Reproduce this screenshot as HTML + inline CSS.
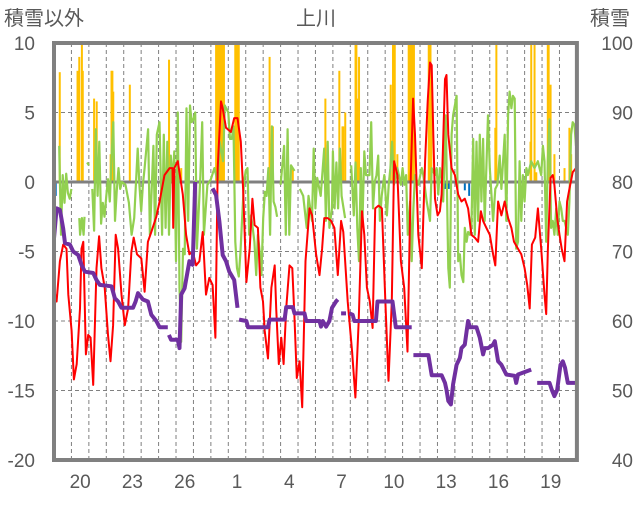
<!DOCTYPE html>
<html><head><meta charset="utf-8">
<style>
html,body{margin:0;padding:0;background:#fff;}
body{width:636px;height:501px;overflow:hidden;font-family:"Liberation Sans","Noto Sans CJK JP",sans-serif;}
svg text{font-family:"Liberation Sans","Noto Sans CJK JP",sans-serif;fill:#595959;}
</style></head>
<body>
<svg id="chart" width="636" height="501" viewBox="0 0 636 501" xmlns="http://www.w3.org/2000/svg">
<text x="4" y="25" font-size="20">積雪以外</text>
<text x="316" y="25" font-size="20" text-anchor="middle">上川</text>
<text x="590" y="25" font-size="20">積雪</text>
<g id="grid"></g>
<g id="bars"></g>
<g id="lines"></g>
<g id="frame"></g>
<g id="ticks"></g>
</svg>
<script>
const leftTicks=[10,5,0,-5,-10,-15,-20];
const rightTicks=[100,90,80,70,60,50,40];
const dayLabels=["20","23","26","1","4","7","10","13","16","19"];
const dayLabelPos=[1,4,7,10,13,16,19,22,25,28];
const redPts=[[0,-7.75],[0.15,-8.6],[0.34,-5.7],[0.53,-4.5],[0.72,-4.8],[0.82,-8.1],[1.01,-10.7],[1.14,-14.2],[1.3,-13.1],[1.49,-9.1],[1.58,-4.8],[1.68,-4.3],[1.83,-12.4],[1.96,-11],[2.1,-11.2],[2.25,-14.6],[2.44,-6.2],[2.59,-3.9],[2.72,-6.2],[2.91,-7.6],[3.1,-11],[3.24,-12.9],[3.39,-10.3],[3.54,-3.8],[3.68,-4.8],[3.87,-8.1],[4.06,-10.3],[4.25,-9.1],[4.44,-5],[4.57,-4],[4.76,-5.2],[5.01,-5.5],[5.2,-7.9],[5.39,-4.3],[5.58,-3.6],[5.87,-2.5],[6.06,-1.4],[6.34,0.5],[6.63,1],[6.8,1],[6.84,-3.3],[6.9,1],[7.1,1.5],[7.39,-0.9],[7.58,-3.8],[7.77,-5.2],[7.96,-5],[8.15,-6],[8.34,-5.7],[8.53,-3.6],[8.72,-8.1],[8.91,-6.9],[9.1,-7.4],[9.26,-11.2],[9.39,1],[9.58,5.8],[9.68,5.3],[9.87,3.9],[10.15,3.6],[10.34,4.6],[10.53,4.6],[10.72,2.9],[10.85,-0.5],[11.04,-7.2],[11.23,-4.8],[11.38,-1.2],[11.51,-3.1],[11.7,-3.3],[11.84,-7.6],[11.99,-8.6],[12.09,-10.7],[12.28,-12.7],[12.47,-7.6],[12.66,-6],[12.75,-9.1],[12.9,-13.1],[13.04,-11.2],[13.17,-13.1],[13.32,-9.1],[13.51,-6],[13.67,-6.2],[13.8,-9.8],[13.93,-14.1],[14.09,-12.9],[14.24,-16.2],[14.43,-5.7],[14.66,-1.9],[14.81,-2.4],[15.04,-5.2],[15.23,-6.7],[15.38,-4.8],[15.51,-2.6],[15.7,-2.6],[15.9,-2.8],[16.09,-3.3],[16.28,-6.7],[16.47,-2.8],[16.6,-3.6],[16.85,-8.6],[17.1,-12.2],[17.29,-15.5],[17.48,-10],[17.67,-2.1],[17.8,-3.8],[17.95,-7.6],[18.12,-8.6],[18.28,-10.5],[18.43,-1.9],[18.62,-1.7],[18.81,-1.9],[19.0,-8.3],[19.19,-14.3],[19.38,-8.6],[19.51,1.5],[19.7,0.5],[19.9,-5.7],[20.09,-7.6],[20.28,-12.2],[20.47,0.5],[20.6,6],[20.71,3.4],[20.9,-3.8],[21.1,-6.2],[21.19,-2.6],[21.29,1.5],[21.44,5.8],[21.57,8.6],[21.67,8.4],[21.76,3.4],[21.86,-1.2],[22.01,-2.4],[22.14,-2.1],[22.24,-0.9],[22.43,7.4],[22.52,7.7],[22.62,3.4],[22.81,1],[23.0,0.5],[23.19,-0.9],[23.38,-1.4],[23.57,-1.2],[23.76,-1.9],[23.95,-3.8],[24.14,-4],[24.33,-4.3],[24.49,-2.1],[24.62,-2.8],[24.81,-3.3],[25.0,-3.8],[25.19,-5.2],[25.32,-6],[25.48,-1.4],[25.67,-2.4],[25.86,-1.4],[26.05,-2.6],[26.24,-3.3],[26.39,-4.3],[26.62,-4.8],[26.81,-5.2],[27.0,-6.2],[27.15,-7.4],[27.29,-9.1],[27.42,-4.5],[27.61,-4],[27.76,-1.9],[27.95,-4.8],[28.14,-8.1],[28.24,-9.5],[28.33,-5],[28.49,0.3],[28.62,0.5],[28.71,-0.2],[28.87,-2.6],[29.0,-3.8],[29.13,-4.8],[29.29,-5.7],[29.44,-1.4],[29.57,-0.5],[29.76,0.7],[29.95,1]];
const greenPts=[[0.3,2.6],[0.4,-3.8],[0.5,0.5],[0.6,-1.5],[0.7,0.6],[0.8,-0.8],[0.9,-1.2],[1.0,-0.5],null,[1.45,-2.6],[1.5,-3.8],[1.6,-2.6],[1.7,-3.8],[1.75,-2.5],null,[1.9,1.4],[2.0,1.2],null,[2.2,-0.5],[2.3,-3.5],[2.4,3.8],[2.5,-1],[2.6,2.9],[2.7,-3],[2.8,-1.5],[2.9,-2.5],[3.0,-1],[3.1,0.2],[3.2,-1.4],[3.3,1.7],[3.4,4.3],[3.5,-2.8],[3.6,-0.7],[3.7,1],[3.8,-0.5],[3.9,0],[4.1,-0.2],[4.3,-1.5],[4.45,-3.8],[4.6,-2.6],[4.8,2.4],[4.9,-0.2],[5.0,-2.1],[5.1,-0.2],[5.2,1],[5.4,3.8],[5.5,-3.8],[5.7,2.6],[5.8,-3.8],[5.9,3.4],[6.05,4.3],[6.2,-3.8],[6.3,3.4],[6.4,-3.3],[6.5,2.9],[6.6,-3.8],[6.7,1.9],[6.8,0],[6.9,2.2],[7.0,-5.7],[7.1,5],[7.2,-7.6],[7.3,-11.5],[7.4,-4.8],[7.5,-5.2],[7.6,5.3],[7.7,-2.8],[7.8,5.5],[7.9,4.3],[8.0,4.5],[8.1,5],[8.2,-4.8],[8.4,0.5],[8.5,4.3],[8.6,-3.8],[8.8,-0.2],[9.0,0.2],[9.2,1],[9.4,0],[9.5,2.9],[9.7,1.5],[9.8,5.5],[10.0,5],[10.1,3.1],[10.2,3.1],[10.3,4],[10.4,-4.3],[10.5,-6.2],[10.6,-6.8],[10.7,-5],[10.8,-2.5],[10.9,0],[11.0,0.8],[11.1,1],[11.2,-3.8],[11.3,-2.4],[11.4,-3.3],[11.5,-4.3],[11.6,-6.7],[11.7,-3.8],[11.8,-5],[11.9,-6.7],[12.0,-2.6],[12.1,-0.7],[12.2,-1],[12.3,1],[12.4,-3.8],[12.5,4],[12.6,-1.4],[12.7,-1.8],[12.8,-2.5],null,[13.0,-0.2],[13.2,2.6],[13.3,-3.8],[13.4,3.8],[13.5,-3.8],[13.6,1.2],[13.8,0.8],null,[14.1,-0.5],[14.3,-1],[14.5,-3.3],[14.6,-1],[14.8,-2.8],[14.9,2.4],[15.0,-1.9],[15.1,0.3],[15.3,-1],[15.5,2.4],[15.6,-2.8],[15.7,2.9],[15.8,-3.3],[15.95,-1.9],[16.0,2.2],[16.1,-1.9],[16.2,1.4],[16.3,-1.9],[16.4,2.4],[16.5,-1],[16.7,-2.6],null,[17.05,1.2],[17.2,-2.4],[17.3,1.4],[17.4,-3.3],[17.5,-5.7],[17.6,1],[17.7,-2.8],[17.8,2.2],[17.9,0.5],[18.1,0.5],[18.2,4.3],[18.3,-1.9],[18.4,0],[18.5,0.5],[18.6,1.9],[18.7,-2.8],[18.8,-1],[18.95,0.5],[19.1,-2.4],[19.2,-0.2],[19.3,1],[19.4,2.9],[19.5,-0.2],[19.7,1],[19.9,-0.2],[20.0,1],[20.1,-0.2],[20.2,0.5],[20.3,-3.8],[20.43,-1.4],[20.52,-5.7],[20.62,-1.9],[20.71,0.5],[20.9,-0.2],[21.1,1],[21.19,0.5],[21.38,-1.4],[21.48,-2.1],[21.57,-2.8],[21.67,1],[21.86,0.5],[21.95,1],[22.05,-0.9],[22.14,1],[22.24,0.3],[22.33,-1.4],[22.47,4.8],[22.62,-6.2],[22.71,-7.6],[22.81,3.4],[22.9,4.8],[23.1,6.2],[23.19,-5.7],[23.29,-5.2],[23.38,-6.7],[23.48,-7.2],[23.57,-3.3],[23.67,-4.3],[23.76,-3.6],[23.86,-3.8],[23.95,-3.3],[24.05,3.1],[24.14,-3.8],[24.24,2.9],[24.33,-2.8],[24.43,3.4],[24.52,-1.4],[24.62,3.1],[24.71,-2.8],[24.9,4.8],[25.0,1],[25.19,-2.8],[25.32,-0.5],[25.44,-0.2],[25.57,1.9],[25.67,-0.5],[25.86,3.4],[25.95,-2.8],[26.05,4.8],[26.14,6.5],[26.24,5.3],[26.33,6.2],[26.43,6.0],[26.52,-4.8],[26.62,-4.3],[26.71,1.5],[26.81,-2.8],[26.9,0.5],[27.0,-1.4],[27.1,1],[27.19,0.5],[27.38,1.5],[27.57,1],[27.76,1.5],[27.95,0.5],[28.05,2.6],[28.14,1.5],[28.24,-4.3],[28.33,1.5],[28.43,4.5],[28.52,-3.3],[28.62,-2.8],[28.71,-3.8],[28.81,-1.9],[28.9,-3.8],[29.0,-1.4],[29.1,-1.9],[29.19,-2.8],[29.29,-2.8],[29.48,-3.8],[29.57,-1.4],[29.67,3.4],[29.76,4.3],[29.86,4.1],[29.95,2.6]];
const snowPts=[[0,71.9],[0.15,76.2],[0.34,76.0],[0.53,73.3],[0.63,71.2],[0.91,71.0],[1.1,70.0],[1.39,69.5],[1.58,68.1],[1.77,67.1],[2.25,66.9],[2.44,65.9],[2.63,65.2],[3.3,65.0],[3.49,63.3],[3.68,62.8],[3.87,61.9],[4.53,61.9],[4.68,62.8],[4.82,64.0],[5.1,63.1],[5.39,62.8],[5.58,60.9],[5.87,60.0],[6.06,59.1],[6.53,59.1],null,[6.59,58.0],[6.72,57.3],[7.1,57.3],[7.2,56.1],[7.3,63.8],[7.49,64.7],[7.77,68.6],[7.96,68.1],[8.1,80],null,[9.1,79.1],[9.3,78.1],[9.49,74.3],[9.68,69.5],[9.87,68.6],[10.06,67.1],[10.34,65.9],[10.53,61.9],null,[10.62,60.2],[11.04,60.0],[11.13,59.1],[12.28,59.1],[12.37,60.2],[13.23,60.2],[13.32,62.0],[13.7,62.0],[13.8,61.1],[14.37,61.1],[14.47,60.0],[15.23,60.0],[15.32,59.2],[15.42,60.0],[15.61,59.2],[15.8,60.0],[15.95,61.9],[16.18,62.8],[16.28,63.1],null,[16.47,61.1],[16.75,61.1],null,[16.94,61.1],[17.13,60.9],[17.23,60.0],[18.47,60.0],[18.56,62.8],[19.42,62.8],[19.61,59.1],[20.52,59.1],null,[20.62,55.1],[21.48,55.1],[21.67,52.2],[22.24,52.2],[22.43,51.1],[22.52,50.1],[22.62,48.5],[22.77,48.0],[22.9,50.9],[23.1,53.7],[23.29,54.7],[23.38,56.1],[23.57,56.6],[23.67,58.5],[23.76,60],[23.86,59.1],[24.24,59.1],[24.43,57.6],[24.62,55.2],[24.71,56.1],[24.9,56.1],[25.19,56.6],[25.29,57.1],[25.48,54.2],[25.67,53.7],[25.95,52.3],[26.43,52.1],[26.52,51.1],[26.62,52.3],[27.38,53],null,[27.72,51.1],[28.43,51.1],[28.56,50.1],[28.71,49.2],[28.87,50.1],[29.06,53.7],[29.19,54.2],[29.32,53.3],[29.48,51.1],[29.95,51.1]];
const precipBars=[[0.33,7.9],[1.35,8],[1.45,9],[1.6,10],[1.65,8],[2.3,6],[2.45,5.8],[3.25,2],[3.3,8],[3.35,8],[3.4,6.5],[4.35,7],[6.6,8.8],[7.3,1],[9.3,10],[9.35,10],[9.4,10],[9.45,10],[9.5,10],[9.55,10],[9.6,10],[9.65,10],[9.7,10],[9.75,10],[10.4,10],[10.45,10],[10.5,10],[10.55,10],[10.6,10],[12.37,9],[12.56,4],[13.42,2.9],[13.7,1],[15.57,6],[16.37,8],[16.55,4],[16.6,4],[16.71,5],[17.3,10],[17.35,10],[17.4,6],[17.5,9],[19.32,7],[19.45,10],[19.5,10],[19.55,10],[19.7,2],[20.35,10],[20.4,10],[20.45,10],[20.5,10],[20.55,10],[20.6,10],[20.65,10],[21.5,10],[21.55,10],[21.6,10],[21.65,6],[25.32,3.9],[25.38,10],[27.34,2.9],[27.38,10],[27.57,10],[27.67,0.7],[28.33,10],[28.38,10],[28.49,7],[28.71,2],[29.29,1],[29.57,3.9],[29.67,2]];
const meltBars=[[0.1,-1],[18.66,-0.5],[22.35,-0.5],[22.45,-0.5],[22.55,-0.5],[22.65,-0.5],[23.57,-0.6],[23.82,-1]];

const NS="http://www.w3.org/2000/svg";
const X0=54,XD=17.43,Y0=182,YU=13.9;
function xs(t){return X0+t*XD;}
function yl(v){return Y0-v*YU;}
function yr(d){return Y0-(d-80)*YU/2;}
function mk(tag,attrs,parent){const e=document.createElementNS(NS,tag);for(const k in attrs)e.setAttribute(k,attrs[k]);parent.appendChild(e);return e;}
const grid=document.getElementById('grid'),bars=document.getElementById('bars'),lines=document.getElementById('lines'),frame=document.getElementById('frame'),ticks=document.getElementById('ticks');

for(let d=1;d<30;d++){
  const l=mk('line',{x1:xs(d),x2:xs(d),y1:yl(10),y2:yl(-20),stroke:'#808080','stroke-width':1,'stroke-dasharray':'4,3'},grid);
  
  
}
leftTicks.forEach(v=>{
  if(v===0||v===10||v===-20)return;
  const l=mk('line',{x1:xs(0),x2:xs(30),y1:yl(v),y2:yl(v),stroke:'#808080','stroke-width':1,'stroke-dasharray':'4,3'},grid);
  
  
});
precipBars.forEach(b=>{
  const v=Math.min(b[1],10);
  const r=mk('rect',{x:xs(b[0])-1,y:yl(v),width:2,height:yl(0)-yl(v),fill:'#FFC000'},bars);
  
  
});
meltBars.forEach(b=>{
  const r=mk('rect',{x:xs(b[0])-1,y:yl(0),width:2,height:yl(b[1])-yl(0),fill:'#0070C0'},bars);
  
  
});
function pathFrom(pts,yf){let d='',pen=false;pts.forEach(p=>{if(!p){pen=false;return;}d+=(pen?'L':'M')+xs(p[0]).toFixed(1)+' '+yf(p[1]).toFixed(1)+' ';pen=true;});return d;}
const zl=mk('line',{x1:xs(0),x2:xs(30),y1:yl(0),y2:yl(0),stroke:'#808080','stroke-width':3},lines);


const gp=mk('path',{d:pathFrom(greenPts,yl),fill:'none',stroke:'#92D050','stroke-width':2.2,'stroke-linejoin':'round'},lines);


const rp=mk('path',{d:pathFrom(redPts,yl),fill:'none',stroke:'#FF0000','stroke-width':2,'stroke-linejoin':'round'},lines);


const sp=mk('path',{d:pathFrom(snowPts,yr),fill:'none',stroke:'#7030A0','stroke-width':4,'stroke-linejoin':'round'},lines);


const fr=mk('rect',{x:xs(0),y:yl(10),width:xs(30)-xs(0),height:yl(-20)-yl(10),fill:'none',stroke:'#808080','stroke-width':4},frame);


leftTicks.forEach(v=>{
  const t=mk('text',{x:35,y:yl(v)+7,'font-size':19,'text-anchor':'end'},ticks);t.textContent=String(v);
  
  
});
rightTicks.forEach(v=>{
  const t=mk('text',{x:633,y:yr(v)+7,'font-size':19,'text-anchor':'end'},ticks);t.textContent=String(v);
  
  
});
dayLabels.forEach((s,i)=>{
  const t=mk('text',{x:xs(dayLabelPos[i]+0.5),y:488,'font-size':19,'text-anchor':'middle'},ticks);t.textContent=s;
  
  
});
</script>
</body></html>
